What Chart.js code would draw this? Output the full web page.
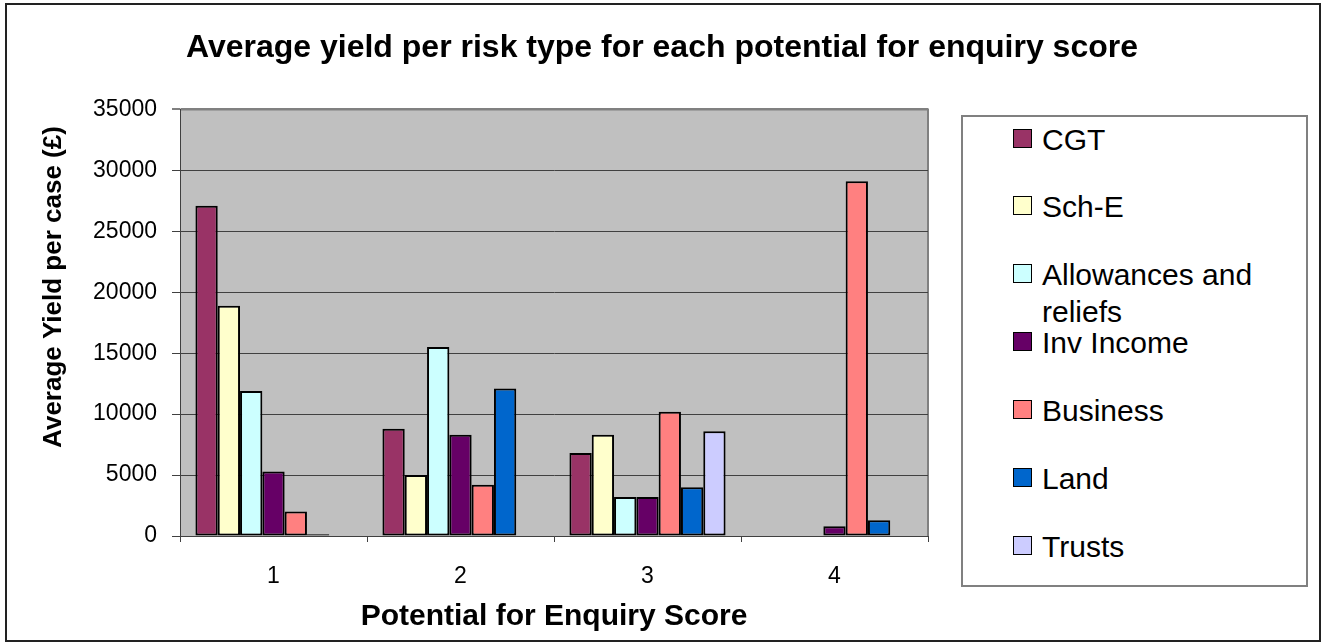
<!DOCTYPE html>
<html><head><meta charset="utf-8">
<script src="https://cdn.jsdelivr.net/npm/chart.js@4.4.1/dist/chart.umd.min.js"></script>
<style>
html,body{margin:0;padding:0;background:#fff;}
#wrap{position:relative;width:1324px;height:643px;overflow:hidden;background:#fff;}
#c{position:absolute;left:0;top:0;}
#frame{position:absolute;left:5px;top:3px;width:1312px;height:635px;border:2px solid #222;pointer-events:none;}
#legend{position:absolute;left:961px;top:115px;width:343px;height:468px;border:2px solid #808080;font-family:"Liberation Sans",Arial,sans-serif;font-size:30px;color:#000;background:#fff;}
.item{position:absolute;left:0;width:330px;}
.sw{position:absolute;left:50px;top:8px;width:17px;height:17px;border:1.5px solid #000;}
.lb{position:absolute;left:79px;top:0;width:230px;line-height:37px;}
</style></head>
<body>
<div id="wrap">
<canvas id="c" width="1324" height="643"></canvas>
<div id="legend"></div>
<div id="frame"></div>
</div>
<script>
const categories = ['1', '2', '3', '4'];
const seriesNames = ['CGT', 'Sch-E', 'Allowances and reliefs', 'Inv Income', 'Business', 'Land', 'Trusts'];
const cgt        = [27100, 8800, 6800, 0];
const schE       = [18900, 5000, 8300, 0];
const allowances = [11900, 15500, 3200, 0];
const invIncome  = [5300, 8300, 3200, 800];
const business   = [2000, 4200, 10200, 29100];
const land       = [150, 12100, 4000, 1300];
const trusts     = [0, 0, 8600, 0];
const yTicks = [0, 5000, 10000, 15000, 20000, 25000, 30000, 35000];
const chartTitle = 'Average yield per risk type for each potential for enquiry score';
const xTitle = 'Potential for Enquiry Score';
const yTitle = 'Average Yield per case (£)';

const seriesValues = [cgt, schE, allowances, invIncome, business, land, trusts];
const colors = ['#993366', '#FFFFCC', '#CCFFFF', '#660066', '#FF8080', '#0066CC', '#CCCCFF'];
const FONT = '"Liberation Sans", Arial, sans-serif';

Chart.defaults.font.family = FONT;
Chart.defaults.color = '#000';

const bgPlugin = {
  id: 'bg',
  beforeDraw(chart) {
    const {ctx, chartArea: a} = chart;
    ctx.save();
    ctx.fillStyle = '#C0C0C0';
    ctx.fillRect(a.left, a.top, a.right - a.left, a.bottom - a.top);
    ctx.strokeStyle = '#808080';
    ctx.lineWidth = 2;
    ctx.beginPath();
    ctx.moveTo(a.left, a.top);
    ctx.lineTo(a.right, a.top);
    ctx.lineTo(a.right, a.bottom);
    ctx.stroke();
    ctx.restore();
  }
};
const yTitlePlugin = {
  id: 'ytitle',
  afterDraw(chart) {
    const ctx = chart.ctx;
    ctx.save();
    ctx.translate(54, 287);
    ctx.rotate(-Math.PI / 2);
    ctx.font = 'bold 26px ' + FONT;
    ctx.fillStyle = '#000';
    ctx.textAlign = 'center';
    ctx.textBaseline = 'middle';
    ctx.fillText(yTitle, 0, 0);
    ctx.restore();
  }
};

new Chart(document.getElementById('c'), {
  type: 'bar',
  data: {
    labels: categories,
    datasets: seriesNames.map((n, i) => ({
      label: n, data: seriesValues[i], backgroundColor: colors[i],
      borderColor: '#000', borderWidth: 2, borderSkipped: false,
      categoryPercentage: 0.835, barPercentage: 1
    }))
  },
  options: {
    responsive: false, animation: false, devicePixelRatio: 1,
    layout: {padding: 0},
    plugins: {
      legend: {display: false}, tooltip: {enabled: false},
      title: {display: true, text: chartTitle, color: '#000',
        font: {family: FONT, size: 32, weight: 'bold'}, padding: {top: 29, bottom: 42}}
    },
    scales: {
      x: {
        offset: true,
        grid: {display: true, drawOnChartArea: false, drawTicks: true, tickLength: 6, color: '#404040', offset: true},
        border: {color: '#404040', width: 1},
        ticks: {font: {size: 23}, color: '#000', padding: 21, maxRotation: 0},
        title: {display: true, text: xTitle, color: '#000', font: {size: 30, weight: 'bold'}, padding: {top: 0, bottom: 8}},
        afterFit(s) { s.height = 107; }
      },
      y: {
        min: 0, max: 35000,
        afterBuildTicks(s) { s.ticks = yTicks.map(v => ({value: v})); },
        ticks: {font: {size: 23}, color: '#000', padding: 15, callback: v => String(v)},
        grid: {
          color: c => (c.tick && c.tick.value === 35000) ? '#808080' : '#404040',
          lineWidth: c => (c.tick && c.tick.value === 35000) ? 2 : 1,
          tickLength: 8
        },
        border: {color: '#404040', width: 1},
        afterFit(s) { s.width = 180; }
      },
      y2: {
        position: 'right', display: true,
        grid: {display: false}, ticks: {display: false}, border: {display: false},
        afterFit(s) { s.width = 396; }
      }
    }
  },
  plugins: [bgPlugin, yTitlePlugin]
});

// legend (HTML)
const leg = document.getElementById('legend');
seriesNames.forEach((n, i) => {
  const it = document.createElement('div');
  it.className = 'item';
  it.style.top = (3.5 + i * 67.95) + 'px';
  const sw = document.createElement('div');
  sw.className = 'sw';
  sw.style.background = colors[i];
  const lb = document.createElement('div');
  lb.className = 'lb';
  lb.textContent = n;
  it.appendChild(sw); it.appendChild(lb);
  leg.appendChild(it);
});
</script>
</body></html>
